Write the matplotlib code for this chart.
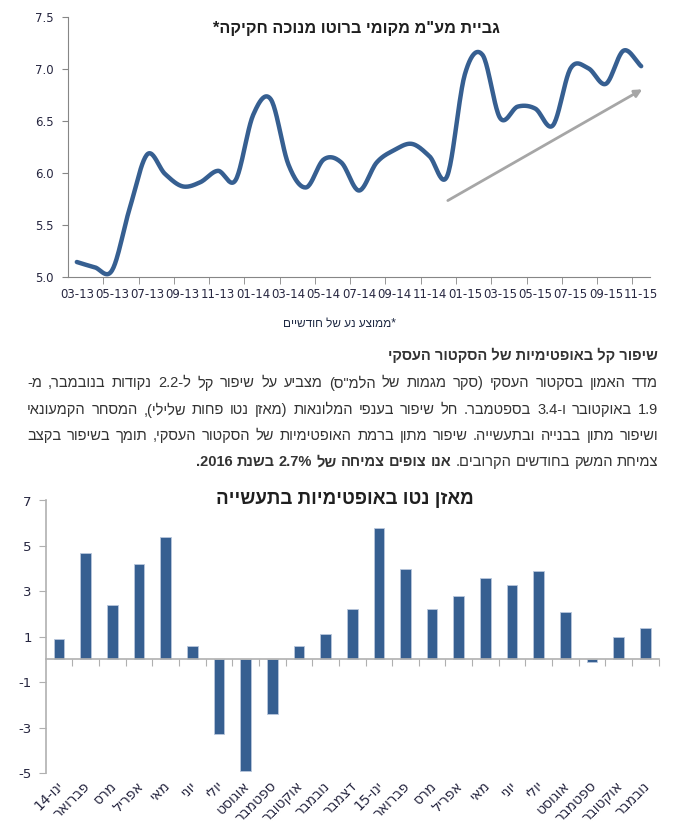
import re
import matplotlib
matplotlib.use('Agg')
import matplotlib.pyplot as plt
import numpy as np

plt.rcParams['font.family'] = ['Liberation Sans', 'DejaVu Sans']
plt.rcParams['axes.unicode_minus'] = False

# ---------------- data ----------------
vat_months = ['03-13', '04-13', '05-13', '06-13', '07-13', '08-13', '09-13', '10-13', '11-13', '12-13',
              '01-14', '02-14', '03-14', '04-14', '05-14', '06-14', '07-14', '08-14', '09-14', '10-14',
              '11-14', '12-14', '01-15', '02-15', '03-15', '04-15', '05-15', '06-15', '07-15', '08-15',
              '09-15', '10-15', '11-15']
vat_values = [5.14, 5.09, 5.06, 5.66, 6.18, 5.99, 5.87, 5.91, 6.02, 5.93,
              6.56, 6.71, 6.08, 5.86, 6.13, 6.10, 5.83, 6.10, 6.22, 6.28,
              6.16, 5.97, 6.95, 7.14, 6.53, 6.64, 6.62, 6.46, 7.01, 7.01,
              6.86, 7.18, 7.03]
trend_start = (20.9, 5.72)
trend_end = (32.2, 6.82)

bar_months = ['ינו-14', 'פברואר', 'מרס', 'אפריל', 'מאי', 'יוני', 'יולי', 'אוגוסט', 'ספטמבר',
              'אוקטובר', 'נובמבר', 'דצמבר', 'ינו-15', 'פברואר', 'מרס', 'אפריל', 'מאי', 'יוני',
              'יולי', 'אוגוסט', 'ספטמבר', 'אוקטובר', 'נובמבר']
bar_values = [0.9, 4.7, 2.4, 4.2, 5.4, 0.6, -3.3, -4.9, -2.4, 0.6, 1.1, 2.2,
              5.8, 4.0, 2.2, 2.8, 3.6, 3.3, 3.9, 2.1, -0.1, 1.0, 1.4]

title_top = 'גביית מע"מ מקומי ברוטו מנוכה חקיקה*'
footnote = '*ממוצע נע של חודשיים'
heading = 'שיפור קל באופטימיות של הסקטור העסקי'
para_lines = [
    'מדד האמון בסקטור העסקי (סקר מגמות של הלמ"ס) מצביע על שיפור קל ל-2.2 נקודות בנובמבר, מ-',
    '1.9 באוקטובר ו-3.4 בספטמבר. חל שיפור בענפי המלונאות (מאזן נטו פחות שלילי), המסחר הקמעונאי',
    'ושיפור מתון בבנייה ובתעשייה. שיפור מתון ברמת האופטימיות של הסקטור העסקי, תומך בשיפור בקצב',
]
last_line_plain = 'צמיחת המשק בחודשים הקרובים.'
last_line_bold = 'אנו צופים צמיחה של 2.7% בשנת 2016.'
title_bottom = 'מאזן נטו באופטימיות בתעשייה'

BLUE = '#365f91'
TXT = '#262640'
W, H = 677, 839

MIRROR = str.maketrans('()[]', ')(][')
NUM = r'(\d+(?:[.,]\d+)*%?)'


def rtl(s):
    # crude bidi: reverse hebrew runs, keep numbers left-to-right
    parts = re.split(NUM, s)
    out = []
    for i in range(len(parts) - 1, -1, -1):
        p = parts[i]
        out.append(p if i % 2 == 1 else p[::-1].translate(MIRROR))
    return ''.join(out)


def smooth(y, n=24):
    y = np.asarray(y, float)
    yp = np.concatenate([[2 * y[0] - y[1]], y, [2 * y[-1] - y[-2]]])
    t = np.linspace(0, 1, n, endpoint=False)
    xs, ys = [], []
    for i in range(len(y) - 1):
        p0, p1, p2, p3 = yp[i:i + 4]
        ys.append(0.5 * (2 * p1 + (p2 - p0) * t + (2 * p0 - 5 * p1 + 4 * p2 - p3) * t ** 2
                         + (3 * p1 - p0 - 3 * p2 + p3) * t ** 3))
        xs.append(i + t)
    xs.append([len(y) - 1])
    ys.append([y[-1]])
    return np.concatenate(xs), np.concatenate(ys)


fig = plt.figure(figsize=(W / 100, H / 100), dpi=100)
fig.patch.set_facecolor('white')


def fx(x):
    return x / W


def fy(y):
    return 1 - y / H


# ---------------- top line chart ----------------
ax1 = fig.add_axes([fx(68), fy(276.5), (650 - 68) / W, (276.5 - 17.5) / H])
sx, sy = smooth(vat_values)
ax1.plot(sx, sy, color=BLUE, lw=3.2, solid_capstyle='round')
ax1.annotate('', xy=trend_end, xytext=trend_start,
             arrowprops=dict(arrowstyle='-|>', color='#a6a6a6', lw=2, mutation_scale=11))
ax1.set_xlim(-0.5, len(vat_months) - 0.5)
ax1.set_ylim(5.0, 7.5)
ax1.set_yticks(np.arange(5.0, 7.51, 0.5))
ax1.set_yticklabels(['%.1f' % v for v in np.arange(5.0, 7.51, 0.5)])
ax1.set_xticks(range(0, len(vat_months), 2))
ax1.set_xticklabels(vat_months[::2])
ax1.set_xticks(np.arange(1.5, len(vat_months) - 1, 2), minor=True)
for s in ['top', 'right']:
    ax1.spines[s].set_visible(False)
for s in ['left', 'bottom']:
    ax1.spines[s].set_color('#868686')
ax1.tick_params(axis='x', which='major', length=0, pad=8, labelsize=8.5, labelcolor=TXT)
ax1.tick_params(axis='x', which='minor', length=5, color='#868686')
ax1.tick_params(axis='y', length=4, color='#868686', pad=6, labelsize=8.5, labelcolor=TXT)
for lab in ax1.get_xticklabels() + ax1.get_yticklabels():
    lab.set_family('DejaVu Sans')
fig.text(fx(356), fy(28), rtl(title_top), ha='center', va='center', fontsize=11.7,
         fontweight='bold', color='#1f1f1f')
fig.text(fx(339), fy(324), rtl(footnote), ha='center', va='center', fontsize=8.5, color='#1f2a44')

# ---------------- paragraph ----------------
renderer = fig.canvas.get_renderer()
PFS = 10.5
PCOL = '#333333'


def width_px(s, weight='normal', size=PFS):
    t = fig.text(0, 0, s, fontsize=size, fontweight=weight)
    w = t.get_window_extent(renderer).width
    t.remove()
    return w


space = width_px('א א') - width_px('אא')
fig.text(fx(658), fy(355), rtl(heading), ha='right', va='center', fontsize=10.5,
         fontweight='bold', color=PCOL)

x_left, x_right = 27, 658
line_y = [383, 410, 436, 462]
for line, y in zip(para_lines, line_y):
    words = line.split(' ')
    vis = [rtl(w) for w in words]
    widths = [width_px(v) for v in vis]
    gap = (x_right - x_left - sum(widths)) / (len(words) - 1)
    x = x_right
    for v, w in zip(vis, widths):
        fig.text(fx(x), fy(y), v, ha='right', va='center', fontsize=PFS, color=PCOL)
        x -= w + gap

x = x_right
for chunk, weight in [(last_line_plain, 'normal'), (last_line_bold, 'bold')]:
    for word in chunk.split(' '):
        v = rtl(word)
        fig.text(fx(x), fy(line_y[3]), v, ha='right', va='center', fontsize=PFS,
                 fontweight=weight, color=PCOL)
        x -= width_px(v, weight) + space

# ---------------- bottom bar chart ----------------
ax2 = fig.add_axes([fx(45.7), fy(773), (658.7 - 45.7) / W, (773 - 500.5) / H])
pos = np.arange(len(bar_values))
ax2.bar(pos, bar_values, width=0.4, color=BLUE, edgecolor='#b8c7dc', linewidth=0.6, zorder=2)
ax2.set_xlim(-0.5, len(bar_values) - 0.5)
ax2.set_ylim(-5, 7)
yt = list(range(-5, 8, 2))
ax2.set_yticks(yt)
ax2.set_yticklabels([str(v) for v in yt])
for s in ['top', 'right']:
    ax2.spines[s].set_visible(False)
ax2.spines['bottom'].set_position(('data', 0))
for s in ['left', 'bottom']:
    ax2.spines[s].set_color('#b0b0b0')
    ax2.spines[s].set_linewidth(1.2)
ax2.set_xticks(np.arange(0.5, len(bar_values), 1))
ax2.tick_params(axis='x', length=5, color='#b0b0b0', labelbottom=False)
ax2.tick_params(axis='y', length=5, color='#b0b0b0', pad=5, labelsize=9.5, labelcolor=TXT)
for lab in ax2.get_yticklabels():
    lab.set_family('DejaVu Sans')
for i, m in enumerate(bar_months):
    ax2.text(i + 0.08, -0.04, rtl(m), transform=ax2.get_xaxis_transform(), rotation=45,
             rotation_mode='anchor', ha='right', va='center', fontsize=10, color=TXT,
             family='DejaVu Sans')
fig.text(fx(345), fy(500), rtl(title_bottom), ha='center', va='center', fontsize=13.5,
         fontweight='bold', color='#1f1f1f')

fig.savefig('out.png', dpi=100, facecolor='white')
